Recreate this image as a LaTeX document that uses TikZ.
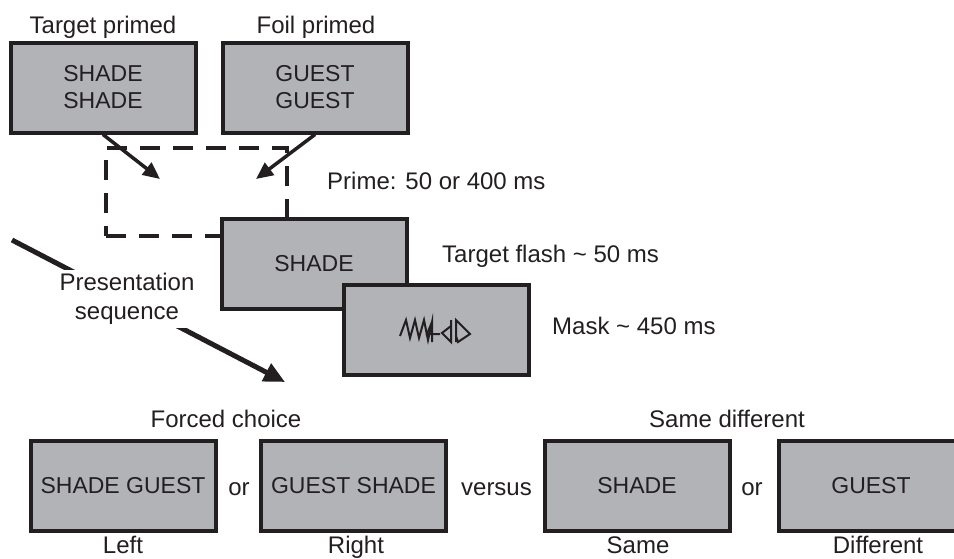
\documentclass[tikz,border=0pt]{standalone}
\usepackage{fontspec}
\setmainfont{Liberation Sans}
\usetikzlibrary{arrows.meta}
\definecolor{ink}{RGB}{35,31,32}
\definecolor{boxgray}{RGB}{178,179,183}
\tikzset{
  screen/.style={draw=ink, line width=4pt, fill=boxgray, minimum width=185pt, minimum height=90pt,
    inner sep=0pt, text=ink, align=center, font=\fontsize{23}{27}\selectfont},
  lab/.style={text=ink, inner sep=0pt, font=\fontsize{24}{29}\selectfont},
  dashbox/.style={draw=ink, line width=4pt, dash pattern=on 20pt off 13pt, minimum width=181pt, minimum height=88pt, inner sep=0pt},
  smallarrow/.style={draw=ink, line width=3.5pt, -{Triangle[length=17pt,width=15pt]}},
  bigarrow/.style={draw=ink, line width=5pt, -{Triangle[length=21pt,width=19pt]}},
  glyph/.style={draw=ink, line width=2pt, line join=miter}
}
\begin{document}
\begin{tikzpicture}[x=1pt,y=-1pt]
\useasboundingbox (0,0) rectangle (954,558);
\clip (0,0) rectangle (954,558);
% prime boxes
\node[lab, anchor=base] (tpl) at (103,33) {Target primed};
\node[lab, anchor=base] (fpl) at (316,33) {Foil primed};
\node[screen] (A) at (103,87.5) {SHADE\\SHADE};
\node[screen] (B) at (315,87.5) {GUEST\\GUEST};
% dashed placeholder
\node[dashbox] (pd) at (196.5,192) {};
\coordinate (tipA) at (160,179);
\coordinate (tipB) at (256,179);
\draw[smallarrow] (A.south) -- (tipA);
\draw[smallarrow] (B.south) -- (tipB);
% sequence
\node[screen] (T) at (314,263.5) {SHADE};
\node[screen] (M) at (436.5,330) {};
\draw[glyph] (400,336) -- (406,320) -- (410,338) -- (415,320) -- (419,338) -- (424,320) -- (428,340) -- (432,322)
  -- (432,342);
\draw[glyph] (432,322) -- (427,334) -- (440,334);
\draw[glyph] (451,320) -- (451,342) -- (442,333) -- (451,326);
\draw[glyph] (456,342) -- (456,320) -- (470,334) -- (458,342) -- (456,336);
\node[lab, anchor=base west] (pl) at (327,189) {Prime: 50 or 400 ms};
\node[lab, anchor=base west] (tfl) at (442,262) {Target flash \char`\~{} 50 ms};
\node[lab, anchor=base west] (ml) at (552,334) {Mask \char`\~{} 450 ms};
% presentation sequence arrow
\coordinate (ps0) at (12,240);
\coordinate (ps1) at (285,382);
\draw[bigarrow] (ps0) -- (ps1);
\node[lab, fill=white, inner sep=3pt, align=center] (pres) at (127,299) {Presentation\\sequence};
% response screens
\node[lab, anchor=base] (fc) at (226,427) {Forced choice};
\node[lab, anchor=base] (sd) at (727,427) {Same different};
\node[screen] (b1) at (123,485.5) {SHADE GUEST};
\node[screen] (b2) at (353.5,485.5) {GUEST SHADE};
\node[screen] (b3) at (637,485.5) {SHADE};
\node[screen] (b4) at (871,485.5) {GUEST};
\node[lab, anchor=base] (or1) at (239,495) {or};
\node[lab, anchor=base] (vs) at (496.5,495) {versus};
\node[lab, anchor=base] (or2) at (752,495) {or};
\node[lab, anchor=base] (l1) at (123,553) {Left};
\node[lab, anchor=base] (l2) at (356,553) {Right};
\node[lab, anchor=base] (l3) at (638,553) {Same};
\node[lab, anchor=base] (l4) at (878,553) {Different};
\end{tikzpicture}
\end{document}
